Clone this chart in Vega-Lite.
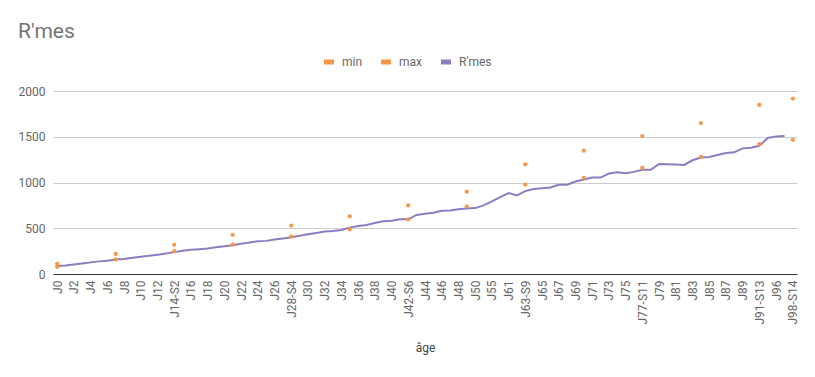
{
  "$schema": "https://vega.github.io/schema/vega-lite/v6.json",
  "autosize": {"type": "none"},
  "width": 744,
  "height": 183,
  "padding": {"left": 53, "top": 91, "right": 18, "bottom": 103},
  "background": "white",
  "title": {
    "text": "R'mes",
    "anchor": "start",
    "frame": "bounds",
    "font": "Roboto",
    "fontSize": 21,
    "fontWeight": "normal",
    "color": "#757575",
    "offset": 14
  },
  "config": {
    "font": "Roboto",
    "view": {"stroke": null},
    "legend": {
      "title": null,
      "orient": "none",
      "direction": "horizontal",
      "legendX": 270,
      "legendY": -35,
      "symbolType": "M-1,-0.5H1V0.5H-1Z",
      "symbolSize": 100,
      "symbolStrokeWidth": 0,
      "symbolOpacity": 1,
      "labelFont": "Roboto",
      "labelFontSize": 12,
      "labelColor": "#666666",
      "columnPadding": 17,
      "labelOffset": 7
    }
  },
  "data": {
    "values": [
      {"jour": "J0", "rmes": 87, "min": 78, "max": 112},
      {"jour": "J1", "rmes": 94},
      {"jour": "J2", "rmes": 105},
      {"jour": "J3", "rmes": 116},
      {"jour": "J4", "rmes": 127},
      {"jour": "J5", "rmes": 138},
      {"jour": "J6", "rmes": 145},
      {"jour": "J7-S1", "rmes": 159, "min": 159, "max": 221},
      {"jour": "J8", "rmes": 163},
      {"jour": "J9", "rmes": 178},
      {"jour": "J10", "rmes": 188},
      {"jour": "J11", "rmes": 199},
      {"jour": "J12", "rmes": 210},
      {"jour": "J13", "rmes": 225},
      {"jour": "J14-S2", "rmes": 239, "min": 250, "max": 319},
      {"jour": "J15", "rmes": 254},
      {"jour": "J16", "rmes": 264},
      {"jour": "J17", "rmes": 271},
      {"jour": "J18", "rmes": 279},
      {"jour": "J19", "rmes": 293},
      {"jour": "J20", "rmes": 304},
      {"jour": "J21-S3", "rmes": 315, "min": 322, "max": 428},
      {"jour": "J22", "rmes": 330},
      {"jour": "J23", "rmes": 344},
      {"jour": "J24", "rmes": 359},
      {"jour": "J25", "rmes": 362},
      {"jour": "J26", "rmes": 377},
      {"jour": "J27", "rmes": 388},
      {"jour": "J28-S4", "rmes": 402, "min": 409, "max": 529},
      {"jour": "J29", "rmes": 417},
      {"jour": "J30", "rmes": 435},
      {"jour": "J31", "rmes": 449},
      {"jour": "J32", "rmes": 464},
      {"jour": "J33", "rmes": 471},
      {"jour": "J34", "rmes": 482},
      {"jour": "J35-S5", "rmes": 507, "min": 489, "max": 630},
      {"jour": "J36", "rmes": 525},
      {"jour": "J37", "rmes": 536},
      {"jour": "J38", "rmes": 558},
      {"jour": "J39", "rmes": 576},
      {"jour": "J40", "rmes": 583},
      {"jour": "J41", "rmes": 598},
      {"jour": "J42-S6", "rmes": 598, "min": 598, "max": 750},
      {"jour": "J43", "rmes": 645},
      {"jour": "J44", "rmes": 659},
      {"jour": "J45", "rmes": 670},
      {"jour": "J46", "rmes": 692},
      {"jour": "J47", "rmes": 695},
      {"jour": "J48", "rmes": 707},
      {"jour": "J49-S7", "rmes": 717, "min": 739, "max": 899},
      {"jour": "J50", "rmes": 720},
      {"jour": "J52", "rmes": 750},
      {"jour": "J55", "rmes": 793},
      {"jour": "J58", "rmes": 841},
      {"jour": "J61", "rmes": 884},
      {"jour": "J62", "rmes": 859},
      {"jour": "J63-S9", "rmes": 906, "min": 978, "max": 1199},
      {"jour": "J64", "rmes": 928},
      {"jour": "J65", "rmes": 938},
      {"jour": "J66", "rmes": 946},
      {"jour": "J67", "rmes": 975},
      {"jour": "J68", "rmes": 975},
      {"jour": "J69", "rmes": 1011},
      {"jour": "J70-S10", "rmes": 1033, "min": 1051, "max": 1348},
      {"jour": "J71", "rmes": 1054},
      {"jour": "J72", "rmes": 1054},
      {"jour": "J73", "rmes": 1098},
      {"jour": "J74", "rmes": 1112},
      {"jour": "J75", "rmes": 1101},
      {"jour": "J76", "rmes": 1116},
      {"jour": "J77-S11", "rmes": 1138, "min": 1159, "max": 1507},
      {"jour": "J78", "rmes": 1138},
      {"jour": "J79", "rmes": 1203},
      {"jour": "J80", "rmes": 1199},
      {"jour": "J81", "rmes": 1196},
      {"jour": "J82", "rmes": 1192},
      {"jour": "J83", "rmes": 1243},
      {"jour": "J84-S12", "rmes": 1272, "min": 1279, "max": 1649},
      {"jour": "J85", "rmes": 1279},
      {"jour": "J86", "rmes": 1301},
      {"jour": "J87", "rmes": 1322},
      {"jour": "J88", "rmes": 1330},
      {"jour": "J89", "rmes": 1373},
      {"jour": "J90", "rmes": 1380},
      {"jour": "J91-S13", "rmes": 1402, "min": 1420, "max": 1848},
      {"jour": "J93", "rmes": 1486},
      {"jour": "J96", "rmes": 1504},
      {"jour": "J97", "rmes": 1507},
      {"jour": "J98-S14", "rmes": null, "min": 1467, "max": 1917}
    ]
  },
  "encoding": {
    "x": {
      "field": "jour",
      "type": "nominal",
      "sort": null,
      "scale": {"type": "point", "padding": 0.5},
      "axis": {
        "title": "âge",
        "titleFont": "Roboto",
        "titleFontSize": 12,
        "titleFontWeight": "normal",
        "titleColor": "#444444",
        "titlePadding": 18,
        "labelAngle": -90,
        "labelFont": "Roboto",
        "labelFontSize": 12,
        "labelColor": "#666666",
        "labelPadding": 6,
        "ticks": false,
        "grid": false,
        "domainColor": "#333333",
        "domainWidth": 1,
        "values": ["J0","J2","J4","J6","J8","J10","J12","J14-S2","J16","J18","J20","J22","J24","J26","J28-S4","J30","J32","J34","J36","J38","J40","J42-S6","J44","J46","J48","J50","J55","J61","J63-S9","J65","J67","J69","J71","J73","J75","J77-S11","J79","J81","J83","J85","J87","J89","J91-S13","J96","J98-S14"]
      }
    }
  },
  "layer": [
    {
      "mark": {"type": "line", "strokeWidth": 2},
      "encoding": {
        "y": {
          "field": "rmes",
          "type": "quantitative",
          "scale": {"domain": [0, 2000]},
          "axis": {
            "title": null,
            "values": [0, 500, 1000, 1500, 2000],
            "format": "d",
            "labelFont": "Roboto",
            "labelFontSize": 12,
            "labelColor": "#666666",
            "labelPadding": 8,
            "ticks": false,
            "domain": false,
            "gridColor": "#cccccc"
          }
        },
        "color": {
          "datum": "R'mes",
          "type": "nominal"
        }
      }
    },
    {
      "transform": [{"fold": ["min", "max"], "as": ["serie", "valeur"]}],
      "mark": {"type": "point", "filled": true, "size": 18, "opacity": 1},
      "encoding": {
        "y": {"field": "valeur", "type": "quantitative"},
        "color": {
          "field": "serie",
          "type": "nominal",
          "scale": {"domain": ["min", "max", "R'mes"], "range": ["#f79646", "#f79646", "#8e7cc3"]}
        }
      }
    }
  ]
}
